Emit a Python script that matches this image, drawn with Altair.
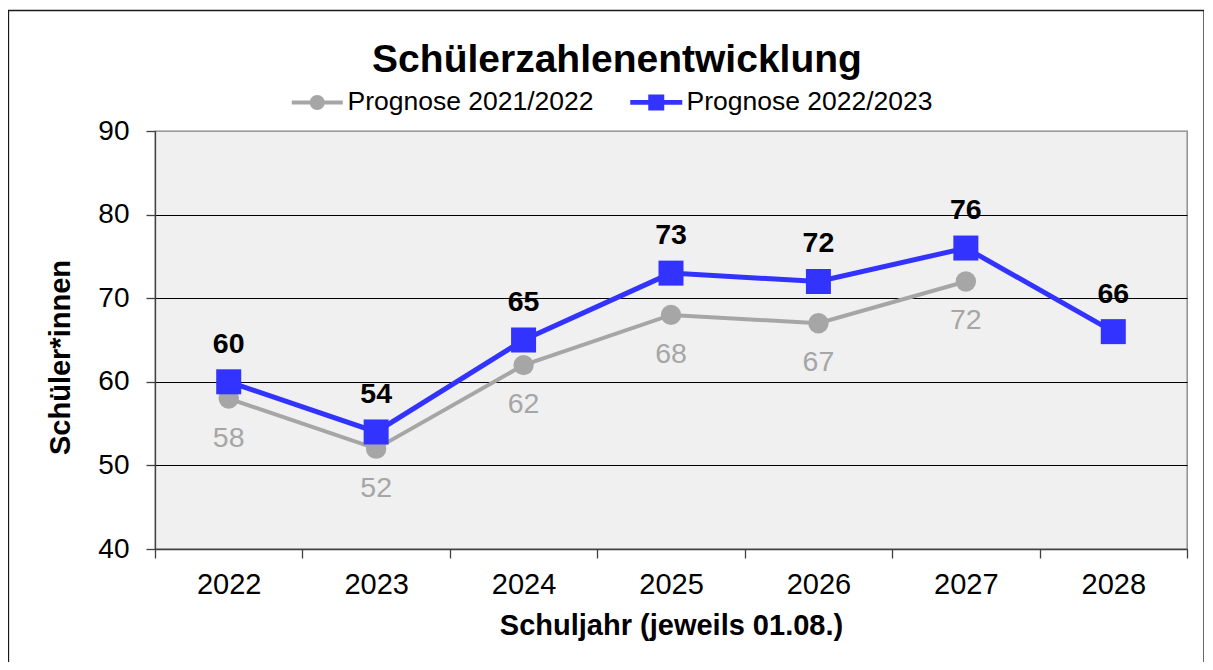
import altair as alt
import pandas as pd

# ---- data ----
years = ["2022", "2023", "2024", "2025", "2026", "2027", "2028"]
prognose_2021_2022 = [58, 52, 62, 68, 67, 72, None]
prognose_2022_2023 = [60, 54, 65, 73, 72, 76, 66]
series_names = ["Prognose 2021/2022", "Prognose 2022/2023"]
series_colors = ["#A6A6A6", "#3333FF"]

rows = []
for name, vals in zip(series_names, [prognose_2021_2022, prognose_2022_2023]):
    for yr, v in zip(years, vals):
        if v is not None:
            rows.append({"year": yr, "series": name, "value": v})
df = pd.DataFrame(rows)

FONT = "Liberation Sans"
GRAY, BLUE = series_colors

x_enc = alt.X(
    "year:O",
    scale=alt.Scale(type="band", domain=years, paddingInner=0, paddingOuter=0),
    bandPosition=0.5,
    axis=alt.Axis(
        title="Schuljahr (jeweils 01.08.)",
        titleFont=FONT, titleFontSize=29, titleFontWeight="bold", titleColor="#000000",
        titlePadding=12,
        labelFont=FONT, labelFontSize=29, labelColor="#000000", labelAngle=0,
        labelPadding=12,
        tickBand="extent", tickSize=9, tickColor="#404040", tickWidth=1.3,
        domainColor="#404040", domainWidth=1.3, grid=False,
    ),
)
y_enc = alt.Y(
    "value:Q",
    scale=alt.Scale(domain=[40, 90], nice=False, zero=False),
    axis=alt.Axis(
        title="Schüler*innen",
        titleFont=FONT, titleFontSize=29, titleFontWeight="bold", titleColor="#000000",
        titlePadding=22, titleY=226,
        labelFont=FONT, labelFontSize=28, labelColor="#000000", labelPadding=17,
        values=[40, 50, 60, 70, 80, 90],
        tickSize=9, tickColor="#404040", tickWidth=1.3,
        domainColor="#404040", domainWidth=1.3,
        grid=True,
        gridColor={"condition": {"test": "datum.value >= 90", "value": "transparent"}, "value": "#000000"},
        gridWidth=1.2,
    ),
)

base = alt.Chart(df).encode(x=x_enc, y=y_enc)

gray = base.transform_filter(alt.datum.series == series_names[0])
blue = base.transform_filter(alt.datum.series == series_names[1])

gray_line = gray.mark_line(color=GRAY, strokeWidth=4)
gray_pts = gray.mark_point(shape="circle", filled=True, color=GRAY, size=415, opacity=1)
blue_line = blue.mark_line(color=BLUE, strokeWidth=5)
blue_pts = blue.mark_point(shape="square", filled=True, color=BLUE, size=625, opacity=1)

gray_labels = gray.mark_text(
    font=FONT, fontSize=28.5, color=GRAY, baseline="middle", align="center", dy=39
).encode(text="value:Q")
blue_labels = blue.mark_text(
    font=FONT, fontSize=28.5, fontWeight="bold", color="#000000", baseline="middle", align="center", dy=-38
).encode(text="value:Q")

# legend: custom symbols = line + marker
legend_paths = [
    "M-2.55,-0.2H2.55V0.2H-2.55Z M-0.75,0A0.75,0.75 0 1,1 0.75,0A0.75,0.75 0 1,1 -0.75,0Z",
    "M-2.6,-0.23H2.6V0.23H-2.6Z M-0.8,-0.8H0.8V0.8H-0.8Z",
]
leg = alt.Legend(
    title=None, orient="none", direction="horizontal",
    legendX=149, legendY=-42, padding=0,
    labelFont=FONT, labelFontSize=26.5, labelColor="#000000", labelOffset=17,
    labelLimit=500, symbolSize=400,
    columnPadding=36, symbolStrokeWidth=0,
)
legend_layer = alt.Chart(df).transform_filter("false").mark_point(
    filled=True, size=400, opacity=1
).encode(
    x=x_enc, y=y_enc,
    color=alt.Color("series:N", scale=alt.Scale(domain=series_names, range=series_colors), legend=leg),
    shape=alt.Shape("series:N", scale=alt.Scale(domain=series_names, range=legend_paths), legend=leg),
)

# outer frame of the picture
frame = alt.Chart(pd.DataFrame({"f": [0]})).mark_rect(
    fillOpacity=0, stroke="#1a1a1a", strokeWidth=1.3
).encode(
    x=alt.value(-146.5), x2=alt.value(1049), y=alt.value(-120.5), y2=alt.value(700)
)

chart = alt.layer(
    frame, gray_line, gray_pts, blue_line, blue_pts, gray_labels, blue_labels, legend_layer
).properties(
    width=1032, height=418,
    title=alt.TitleParams(
        "Schülerzahlenentwicklung", font=FONT, fontSize=39, fontWeight="bold",
        color="#000000", anchor="middle", dx=-54, dy=80, offset=10,
    ),
    autosize=alt.AutoSizeParams(type="none"),
    padding={"left": 147, "top": 123, "right": 17, "bottom": 113},
).configure_view(
    fill="#F0F0F0", stroke="#808080", strokeWidth=1.3
)

chart.save("out.html", embed_options={"renderer": "svg", "actions": False})
